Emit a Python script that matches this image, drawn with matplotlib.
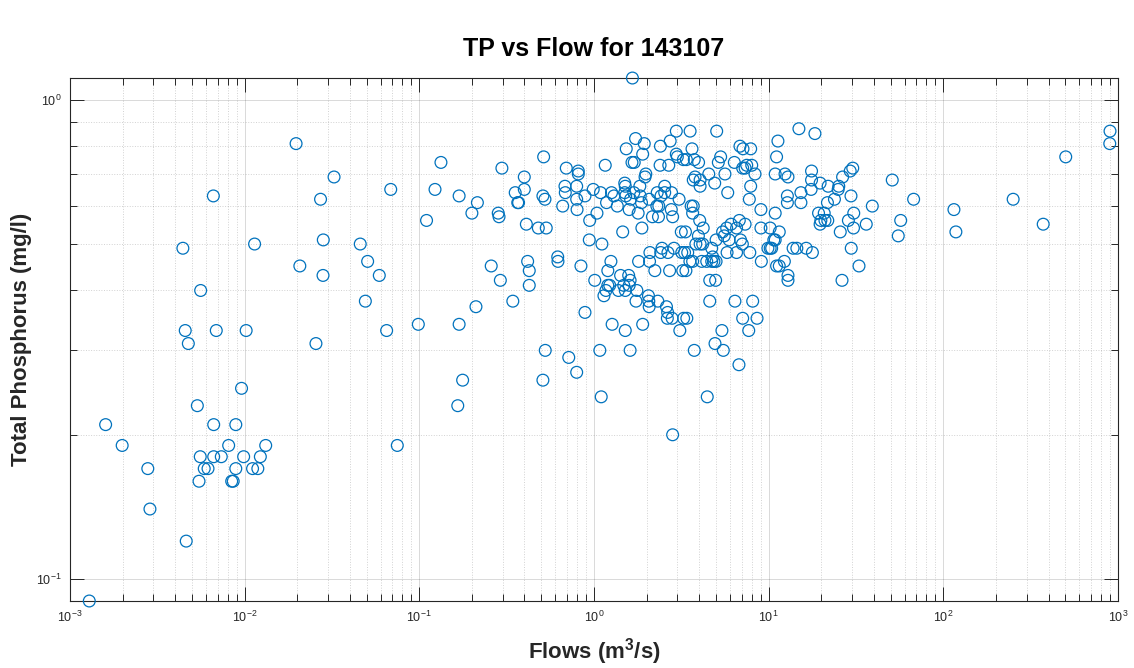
import numpy as np
import matplotlib.pyplot as plt
from matplotlib.ticker import LogLocator, NullFormatter, LogFormatterMathtext

# flows (m3/s) and total phosphorus (mg/l)
flows = [
    0.0197, 0.0325, 0.00662, 0.0272, 0.0686, 0.00443, 0.0114, 0.0282, 0.0459, 0.0207,
    0.0281, 0.0506, 0.059, 0.0056, 0.0491, 0.00457, 0.00688, 0.0102, 0.065, 0.0987,
    0.0256, 0.00476, 0.0096, 0.00536, 0.0016, 0.00665, 0.0089, 0.00199, 0.0081, 0.0132,
    0.0748, 0.00557, 0.00665, 0.00735, 0.00987, 0.0123, 0.00279, 0.00587, 0.00617, 0.0089,
    0.0111, 0.0119, 0.00548, 0.00843, 0.0086, 0.00287, 0.00463, 0.00129,
    0.133, 0.123, 0.169, 0.215, 0.200, 0.110, 0.211, 0.169, 0.177, 0.166, 0.343,
    0.888, 1.14, 1.17, 1.23, 1.38, 1.48, 1.51, 1.59, 1.76, 1.74, 2.05, 2.06, 2.07, 2.32,
    2.60, 2.64, 2.63, 2.80, 3.26, 3.10, 1.27, 1.51, 1.90, 0.526, 0.717, 0.796, 0.51, 1.08,
    1.61, 1.10, 2.82,
    3.75, 4.93, 5.50, 6.76, 4.45, 5.40, 7.69, 4.6, 4.97, 4.6, 6.41, 8.1, 3.4, 7.1, 8.58,
    12.9, 26.3,
    2.96, 1.73, 1.94, 2.73, 1.53, 1.90, 2.40, 2.96, 3.0, 3.25, 1.65, 1.70, 0.515, 1.16,
    2.39, 2.68, 0.297, 0.694, 0.813, 0.813, 1.98, 1.96, 0.399, 1.50, 1.83, 2.54, 0.682,
    0.796, 0.354, 0.399, 0.685, 0.99, 1.09, 1.26, 1.30, 1.50, 1.52, 1.69, 1.84, 2.30,
    2.42, 2.54, 2.78, 3.07, 0.888, 0.796, 0.51, 0.524, 0.366, 0.37, 1.18, 1.36, 1.59,
    1.87, 2.07, 2.29, 2.35, 2.77, 0.662, 0.80, 1.79, 2.16, 2.34, 2.82, 0.283, 0.286, 1.04,
    0.945, 0.41, 0.48, 0.533, 1.88, 1.46, 3.16, 0.94, 1.11, 2.45, 2.09, 2.65, 2.87, 3.18,
    0.258, 0.417, 0.426, 0.62, 0.622, 0.842, 1.25, 1.20, 1.80, 2.08, 2.23, 2.71, 3.22,
    0.291, 0.426, 1.01, 1.42, 1.58, 1.61, 1.20,
    1.66, 3.83, 1.51, 1.62, 2.41, 5.0,
    3.55, 5.04, 14.9, 18.4, 11.3, 6.85, 7.13, 7.89, 3.64, 11.1, 3.38, 3.75, 5.31, 5.15,
    6.36, 3.97, 7.49, 7.1, 7.33, 8.35, 4.54, 5.62, 10.9, 12.4, 12.9, 17.6, 30.3, 29.3,
    26.5, 51.0, 3.79, 3.7, 4.05, 4.05, 4.91, 7.89, 17.6, 19.7, 21.9, 25.2, 25.0, 17.5,
    15.3, 5.83, 12.8, 7.75, 12.8, 15.3, 21.7, 23.8, 29.6, 39.2, 3.6, 3.7, 3.67, 4.03,
    4.22, 9.03, 10.9, 19.3, 20.8, 19.9, 19.7, 21.0, 21.8, 28.6, 30.7, 30.6, 36.2, 25.7,
    29.7, 32.9, 3.34, 3.96, 4.05, 4.19, 5.0, 5.45, 5.75, 6.09, 5.57, 5.94, 6.79, 7.33,
    6.55, 7.07, 6.9, 9.03, 10.2, 10.7, 10.9, 11.5, 9.9, 10.2, 10.4, 13.8, 14.5, 16.4,
    17.8, 3.3, 3.44, 3.54, 3.67, 4.14, 4.42, 4.72, 4.86, 4.78, 5.78, 6.55, 7.8, 9.08,
    11.1, 11.5, 12.3, 12.9, 3.36, 4.72, 8.0,
    900, 897, 502, 67.6, 57.0, 55.2, 115, 118, 251, 373,
]
tp = [
    0.81, 0.69, 0.63, 0.62, 0.65, 0.49, 0.50, 0.51, 0.50, 0.45,
    0.43, 0.46, 0.43, 0.40, 0.38, 0.33, 0.33, 0.33, 0.33, 0.34,
    0.31, 0.31, 0.25, 0.23, 0.21, 0.21, 0.21, 0.19, 0.19, 0.19,
    0.19, 0.18, 0.18, 0.18, 0.18, 0.18, 0.17, 0.17, 0.17, 0.17,
    0.17, 0.17, 0.16, 0.16, 0.16, 0.14, 0.12, 0.09,
    0.74, 0.65, 0.63, 0.61, 0.58, 0.56, 0.37, 0.34, 0.26, 0.23, 0.38,
    0.36, 0.39, 0.40, 0.41, 0.40, 0.41, 0.40, 0.41, 0.40, 0.38, 0.39, 0.38, 0.37, 0.38,
    0.37, 0.36, 0.35, 0.35, 0.35, 0.33, 0.34, 0.33, 0.34, 0.30, 0.29, 0.27, 0.26, 0.30,
    0.30, 0.24, 0.20,
    0.30, 0.31, 0.30, 0.28, 0.24, 0.33, 0.33, 0.42, 0.42, 0.38, 0.38, 0.38, 0.35, 0.35, 0.35,
    0.42, 0.42,
    0.86, 0.83, 0.81, 0.82, 0.79, 0.77, 0.80, 0.77, 0.76, 0.75, 0.74, 0.74, 0.76, 0.73,
    0.73, 0.73, 0.72, 0.72, 0.71, 0.70, 0.70, 0.69, 0.69, 0.67, 0.66, 0.66, 0.66,
    0.66, 0.64, 0.65, 0.64, 0.65, 0.64, 0.64, 0.63, 0.64, 0.63, 0.64, 0.63, 0.64,
    0.63, 0.64, 0.64, 0.62, 0.63, 0.62, 0.63, 0.62, 0.61, 0.61, 0.61, 0.60, 0.59,
    0.61, 0.62, 0.60, 0.60, 0.59, 0.60, 0.59, 0.58, 0.57, 0.57, 0.57, 0.58, 0.57, 0.58,
    0.56, 0.55, 0.54, 0.54, 0.54, 0.53, 0.53, 0.51, 0.50, 0.49, 0.48, 0.48, 0.49, 0.48,
    0.45, 0.46, 0.44, 0.47, 0.46, 0.45, 0.46, 0.44, 0.46, 0.46, 0.44, 0.44, 0.44,
    0.42, 0.41, 0.42, 0.43, 0.43, 0.42, 0.41,
    1.11, 0.50, 0.66, 0.62, 0.48, 0.46,
    0.86, 0.86, 0.87, 0.85, 0.82, 0.80, 0.79, 0.79, 0.79, 0.76, 0.75, 0.75, 0.76, 0.74,
    0.74, 0.74, 0.73, 0.72, 0.72, 0.70, 0.70, 0.70, 0.70, 0.70, 0.69, 0.71, 0.72, 0.71,
    0.69, 0.68, 0.69, 0.68, 0.68, 0.66, 0.67, 0.66, 0.68, 0.67, 0.66, 0.66, 0.65, 0.65,
    0.64, 0.64, 0.63, 0.62, 0.61, 0.61, 0.61, 0.62, 0.63, 0.60, 0.60, 0.60, 0.58, 0.56,
    0.54, 0.59, 0.58, 0.58, 0.58, 0.56, 0.55, 0.56, 0.56, 0.56, 0.58, 0.54, 0.55, 0.53,
    0.49, 0.45, 0.53, 0.52, 0.50, 0.50, 0.51, 0.53, 0.54, 0.55, 0.52, 0.51, 0.56, 0.55,
    0.54, 0.50, 0.51, 0.54, 0.54, 0.51, 0.51, 0.53, 0.49, 0.49, 0.49, 0.49, 0.49, 0.49,
    0.48, 0.48, 0.48, 0.46, 0.46, 0.46, 0.46, 0.46, 0.46, 0.47, 0.48, 0.48, 0.48, 0.46,
    0.45, 0.45, 0.46, 0.43, 0.44, 0.49, 0.73,
    0.86, 0.81, 0.76, 0.62, 0.56, 0.52, 0.59, 0.53, 0.62, 0.55,
]

plt.rcParams['font.family'] = ['Liberation Sans', 'DejaVu Sans']
plt.rcParams['mathtext.fontset'] = 'custom'
plt.rcParams['mathtext.rm'] = 'Liberation Sans'
plt.rcParams['mathtext.it'] = 'Liberation Sans:italic'
plt.rcParams['mathtext.bf'] = 'Liberation Sans:bold'

dark = '#262626'
blue = '#0072BD'

fig = plt.figure(figsize=(11.34, 6.68), dpi=100)
ax = fig.add_axes([0.0617, 0.1003, 0.9242, 0.7829])

ax.scatter(flows, tp, s=72, facecolors='none', edgecolors=blue,
           linewidths=0.9, clip_on=False, zorder=3)

ax.set_xscale('log')
ax.set_yscale('log')
ax.set_xlim(1e-3, 1e3)
ax.set_ylim(0.09, 1.11)

ax.xaxis.set_major_locator(LogLocator(base=10, numticks=12))
ax.xaxis.set_minor_locator(LogLocator(base=10, subs=np.arange(2, 10), numticks=100))
ax.yaxis.set_major_locator(LogLocator(base=10, numticks=12))
ax.yaxis.set_minor_locator(LogLocator(base=10, subs=np.arange(2, 10), numticks=100))
ax.xaxis.set_major_formatter(LogFormatterMathtext())
ax.yaxis.set_major_formatter(LogFormatterMathtext())
ax.xaxis.set_minor_formatter(NullFormatter())
ax.yaxis.set_minor_formatter(NullFormatter())

ax.tick_params(which='both', direction='in', top=True, right=True,
               color=dark, labelcolor=dark, labelsize=9, width=0.7)
ax.tick_params(which='major', length=10, pad=6)
ax.tick_params(which='minor', length=5)

ax.grid(True, which='major', color='black', alpha=0.15, linestyle='-', linewidth=0.7)
ax.grid(True, which='minor', color='black', alpha=0.18, linestyle=':', linewidth=0.7)
ax.set_axisbelow(True)

for sp in ax.spines.values():
    sp.set_color(dark)
    sp.set_linewidth(0.8)

ax.set_title('TP vs Flow for 143107', fontsize=18, fontweight='bold', color='black', pad=16)
ax.set_xlabel(r'Flows (m$^{\mathbf{3}}$/s)', fontsize=16, fontweight='bold', color=dark, labelpad=8)
ax.set_ylabel('Total Phosphorus (mg/l)', fontsize=16, fontweight='bold', color=dark, labelpad=3)

fig.savefig('out.png', dpi=100)
